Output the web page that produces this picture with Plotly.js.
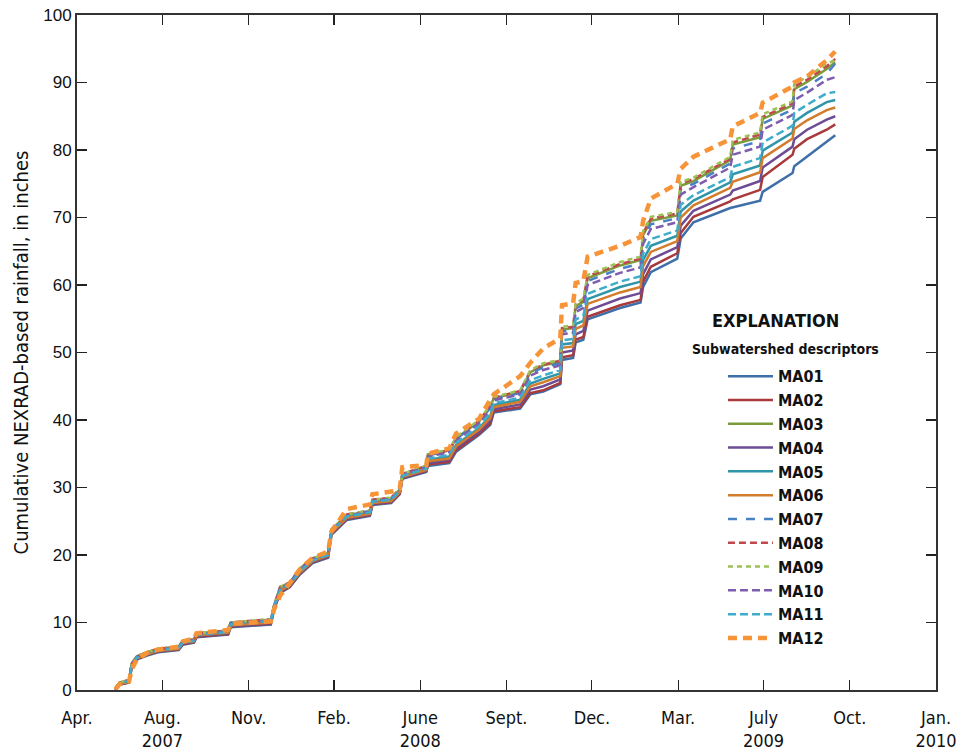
<!DOCTYPE html>
<html>
<head>
<meta charset="utf-8">
<script src="https://cdn.plot.ly/plotly-3.0.1.min.js"></script>
<style>
html,body{margin:0;padding:0;background:#fff;}
#chart{width:968px;height:756px;}
</style>
</head>
<body>
<div id="chart"></div>
<script>
const dates = ["2007-05-16","2007-05-21","2007-06-01","2007-06-04","2007-06-10","2007-06-22","2007-07-05","2007-07-29","2007-08-03","2007-08-16",
"2007-08-19","2007-09-25","2007-09-28","2007-11-14","2007-11-18","2007-11-25","2007-12-06","2007-12-18","2008-01-02","2008-01-20",
"2008-01-24","2008-02-11","2008-03-09","2008-03-12","2008-04-03","2008-04-13","2008-04-16","2008-05-14","2008-05-16","2008-06-10",
"2008-06-18","2008-07-15","2008-07-28","2008-08-01","2008-09-01","2008-09-13","2008-09-28","2008-10-18","2008-10-20","2008-11-02",
"2008-11-05","2008-11-14","2008-11-19","2008-12-27","2009-01-20","2009-01-23","2009-02-01","2009-03-04","2009-03-08","2009-03-23",
"2009-05-05","2009-05-08","2009-06-09","2009-06-12","2009-07-17","2009-07-19","2009-08-03","2009-08-26","2009-09-05"];

const MA01 = [0.0,0.8,1.1,3.3,4.5,5.1,5.6,5.9,6.7,7.0, 7.8,8.2,9.3,9.7,12.0,14.4,15.2,17.1,18.8,19.6, 23.0,25.2,25.8,27.4,27.7,29.0,31.3,32.3,33.2,33.6, 35.3,37.8,39.3,41.1,41.7,43.8,44.2,45.3,48.9,49.2, 51.5,51.9,54.9,56.6,57.4,59.7,61.9,63.9,66.9,69.3, 71.4,71.5,72.5,73.8,76.6,77.6,79.0,81.2,82.2];
const MA02 = [0.0,0.8,1.1,3.4,4.6,5.2,5.7,6.0,6.8,7.1, 7.9,8.3,9.4,9.8,12.1,14.5,15.3,17.2,18.9,19.7, 23.1,25.3,25.9,27.5,27.8,29.1,31.4,32.4,33.4,33.8, 35.5,38.0,39.5,41.3,41.9,44.0,44.4,45.5,49.3,49.6, 51.9,52.3,55.3,57.0,57.8,60.5,62.7,64.7,67.7,70.1, 72.4,72.7,74.1,76.0,79.3,80.2,81.6,83.0,83.8];
const MA03 = [0.3,1.1,1.5,3.9,5.0,5.6,6.1,6.4,7.3,7.5, 8.4,8.8,10.0,10.4,12.6,15.2,15.9,17.9,19.5,20.3, 23.7,25.9,26.5,28.1,28.4,29.7,32.0,33.1,34.9,35.5, 37.3,39.8,42.0,43.2,44.2,47.1,48.1,48.6,53.4,53.6, 56.9,57.5,61.0,62.9,63.7,67.4,69.5,70.3,74.7,75.4, 78.5,80.8,81.9,84.6,86.6,89.0,90.1,92.0,93.0];
const MA04 = [0.0,0.8,1.2,3.5,4.7,5.3,5.8,6.1,6.9,7.2, 8.0,8.4,9.5,9.9,12.2,14.6,15.4,17.3,19.0,19.8, 23.2,25.4,26.0,27.6,27.9,29.2,31.5,32.5,33.6,34.1, 35.8,38.3,39.9,41.6,42.3,44.5,45.0,46.0,50.0,50.3, 52.7,53.2,56.2,58.0,58.8,61.6,63.8,65.6,68.8,71.0, 73.4,74.0,75.4,77.4,80.5,81.6,83.0,84.5,85.0];
const MA05 = [0.1,0.9,1.3,3.6,4.8,5.4,5.9,6.2,7.0,7.3, 8.1,8.5,9.7,10.1,12.3,14.8,15.6,17.5,19.2,20.0, 23.4,25.6,26.2,27.8,28.1,29.4,31.7,32.7,34.1,34.6, 36.3,38.8,40.6,42.2,43.0,45.4,46.1,46.9,51.2,51.4, 54.2,54.7,57.9,59.7,60.5,63.7,65.8,67.3,70.9,72.5, 75.2,76.4,77.7,79.9,82.6,84.2,85.5,87.1,87.4];
const MA06 = [0.1,0.9,1.2,3.6,4.7,5.3,5.8,6.1,7.0,7.2, 8.1,8.5,9.6,10.0,12.3,14.7,15.5,17.4,19.1,19.9, 23.3,25.5,26.1,27.7,28.0,29.3,31.6,32.6,33.9,34.3, 36.1,38.6,40.3,41.9,42.7,45.0,45.6,46.5,50.7,50.9, 53.5,54.0,57.2,58.9,59.7,62.8,64.9,66.5,70.0,71.8, 74.4,75.3,76.7,78.8,81.7,83.1,84.4,85.9,86.3];
const MA07 = [0.3,1.1,1.4,3.8,4.9,5.5,6.0,6.3,7.2,7.4, 8.3,8.7,9.9,10.4,12.5,15.2,15.8,17.9,19.4,20.2, 23.7,25.9,26.5,28.1,28.4,29.7,31.9,33.1,34.8,35.3, 37.2,39.7,41.8,43.1,44.0,46.9,47.8,48.4,53.1,53.3, 56.5,57.1,60.6,62.4,63.2,66.9,69.0,69.9,74.2,75.0, 78.0,80.2,81.3,83.9,86.0,88.4,89.4,91.3,92.8];
const MA08 = [0.3,1.1,1.5,3.9,5.0,5.6,6.1,6.4,7.3,7.5, 8.4,8.8,10.0,10.5,12.6,15.3,15.9,18.0,19.5,20.3, 23.8,26.0,26.6,28.2,28.5,29.8,32.0,33.2,34.9,35.5, 37.4,39.9,42.1,43.3,44.3,47.3,48.2,48.8,53.6,53.8, 57.1,57.8,61.3,63.1,63.9,67.7,69.8,70.6,75.0,75.7, 78.7,81.1,82.3,84.9,86.9,89.4,90.4,92.4,93.5];
const MA09 = [0.3,1.1,1.5,3.9,5.0,5.6,6.1,6.4,7.3,7.5, 8.4,8.8,10.0,10.5,12.6,15.3,15.9,18.0,19.5,20.3, 23.8,26.0,26.6,28.2,28.5,29.8,32.0,33.2,35.0,35.6, 37.5,40.0,42.2,43.4,44.4,47.4,48.4,48.9,53.8,54.0, 57.3,58.0,61.5,63.4,64.2,68.0,70.1,70.8,75.3,75.9, 79.0,81.5,82.6,85.3,87.2,89.8,90.8,92.8,93.3];
const MA10 = [0.2,1.0,1.4,3.8,4.9,5.5,6.0,6.3,7.2,7.4, 8.3,8.7,9.9,10.3,12.5,15.1,15.8,17.8,19.4,20.2, 23.6,25.8,26.4,28.0,28.3,29.6,31.9,33.0,34.6,35.2, 37.0,39.5,41.5,42.9,43.8,46.6,47.4,48.1,52.7,52.9, 56.0,56.6,60.0,61.8,62.6,66.1,68.3,69.3,73.4,74.5, 77.4,79.3,80.5,83.0,85.2,87.4,88.5,90.4,90.8];
const MA11 = [0.2,1.0,1.3,3.7,4.8,5.4,5.9,6.2,7.1,7.3, 8.2,8.6,9.7,10.2,12.4,14.9,15.6,17.6,19.2,20.0, 23.5,25.7,26.3,27.9,28.2,29.5,31.7,32.8,34.3,34.8, 36.6,39.1,41.0,42.5,43.3,45.9,46.6,47.4,51.8,52.0, 54.9,55.4,58.7,60.5,61.3,64.6,66.8,68.1,71.9,73.3, 76.0,77.5,78.8,81.1,83.6,85.5,86.7,88.4,88.6];
const MA12 = [0.1,0.9,1.3,3.0,4.5,5.5,6.0,6.4,7.2,7.6, 8.4,8.9,9.8,10.2,12.0,14.0,15.8,17.9,19.6,20.5, 23.5,26.8,27.5,29.0,29.4,29.8,33.0,33.3,35.0,35.8, 38.0,40.2,43.0,43.8,46.5,48.5,50.6,52.1,57.0,57.3, 60.3,60.6,64.2,65.8,67.1,69.5,72.8,75.0,77.2,79.0, 81.6,83.5,85.5,87.0,89.4,90.0,90.9,93.3,94.6];

const seriesNames = ["MA01","MA02","MA03","MA04","MA05","MA06","MA07","MA08","MA09","MA10","MA11","MA12"];
const seriesValues = [MA01,MA02,MA03,MA04,MA05,MA06,MA07,MA08,MA09,MA10,MA11,MA12];
const tickLabels = ["Apr.","Aug.<br>2007","Nov.","Feb.","June<br>2008","Sept.","Dec.","Mar.","July<br>2009","Oct.","Jan.<br>2010"];

const styles = [
  {color:"#3f6fa8", dash:"solid", width:2.5},
  {color:"#a83a3c", dash:"solid", width:2.5},
  {color:"#7c9c3c", dash:"solid", width:2.5},
  {color:"#6c4c94", dash:"solid", width:2.5},
  {color:"#2f95a8", dash:"solid", width:2.5},
  {color:"#d27c2c", dash:"solid", width:2.5},
  {color:"#4a80c4", dash:"9px,9px", width:2.5},
  {color:"#c2474a", dash:"7px,4px", width:2.5},
  {color:"#9cc154", dash:"5px,4px", width:2.5},
  {color:"#7e5cae", dash:"8px,4px", width:2.5},
  {color:"#3eaccb", dash:"8px,4px", width:2.5},
  {color:"#f89438", dash:"9px,6px", width:4.5}
];

const traces = seriesNames.map((n,i)=>({
  type:"scatter", mode:"lines", name:n, x:dates, y:seriesValues[i],
  line:{color:styles[i].color, dash:styles[i].dash, width:styles[i].width}
}));

const t0 = Date.UTC(2007,3,1), t1 = Date.UTC(2010,0,1);
const tickvals = tickLabels.map((_,i)=>new Date(t0 + i*(t1-t0)/10).toISOString().slice(0,10));

const cond = "DejaVu Sans Condensed, Liberation Sans Narrow, sans-serif";

const layout = {
  width:968, height:756,
  margin:{l:77, r:32, t:15, b:66},
  paper_bgcolor:"#fff", plot_bgcolor:"#fff",
  showlegend:true,
  xaxis:{
    type:"date", range:[new Date(t0).toISOString().slice(0,10), new Date(t1).toISOString().slice(0,10)],
    tickmode:"array", tickvals:tickvals, ticktext:tickLabels,
    ticks:"inside", ticklen:10, tickwidth:1.2, tickcolor:"#222",
    showline:true, linecolor:"#333", linewidth:2, mirror:"ticks",
    showgrid:false, zeroline:false, ticklabelstandoff:10,
    tickfont:{family:cond, size:18, color:"#111"}
  },
  yaxis:{
    range:[0,100], tickmode:"linear", tick0:0, dtick:10,
    ticks:"inside", ticklen:10, tickwidth:1.2, tickcolor:"#222",
    showline:true, linecolor:"#333", linewidth:2, mirror:"ticks",
    showgrid:false, zeroline:false,
    tickfont:{family:"Liberation Sans, Arial, sans-serif", size:17, color:"#111"},
    title:{text:"Cumulative NEXRAD-based rainfall, in inches", font:{family:cond, size:20, color:"#111"}, standoff:9}
  },
  legend:{
    x:0.752, y:0.49, xanchor:"left", yanchor:"top",
    bgcolor:"rgba(0,0,0,0)", borderwidth:0,
    font:{family:cond, size:16, color:"#111", weight:"bold"},
    itemwidth:45, tracegroupgap:0
  },
  annotations:[
    {xref:"paper", yref:"paper", x:0.813, y:0.548, xanchor:"center", yanchor:"middle", showarrow:false,
     text:"<b>EXPLANATION</b>", font:{family:cond, size:18, color:"#111"}},
    {xref:"paper", yref:"paper", x:0.825, y:0.505, xanchor:"center", yanchor:"middle", showarrow:false,
     text:"<b>Subwatershed descriptors</b>", font:{family:cond, size:14, color:"#111"}}
  ]
};

Plotly.newPlot("chart", traces, layout, {displayModeBar:false, staticPlot:true});
</script>
</body>
</html>
